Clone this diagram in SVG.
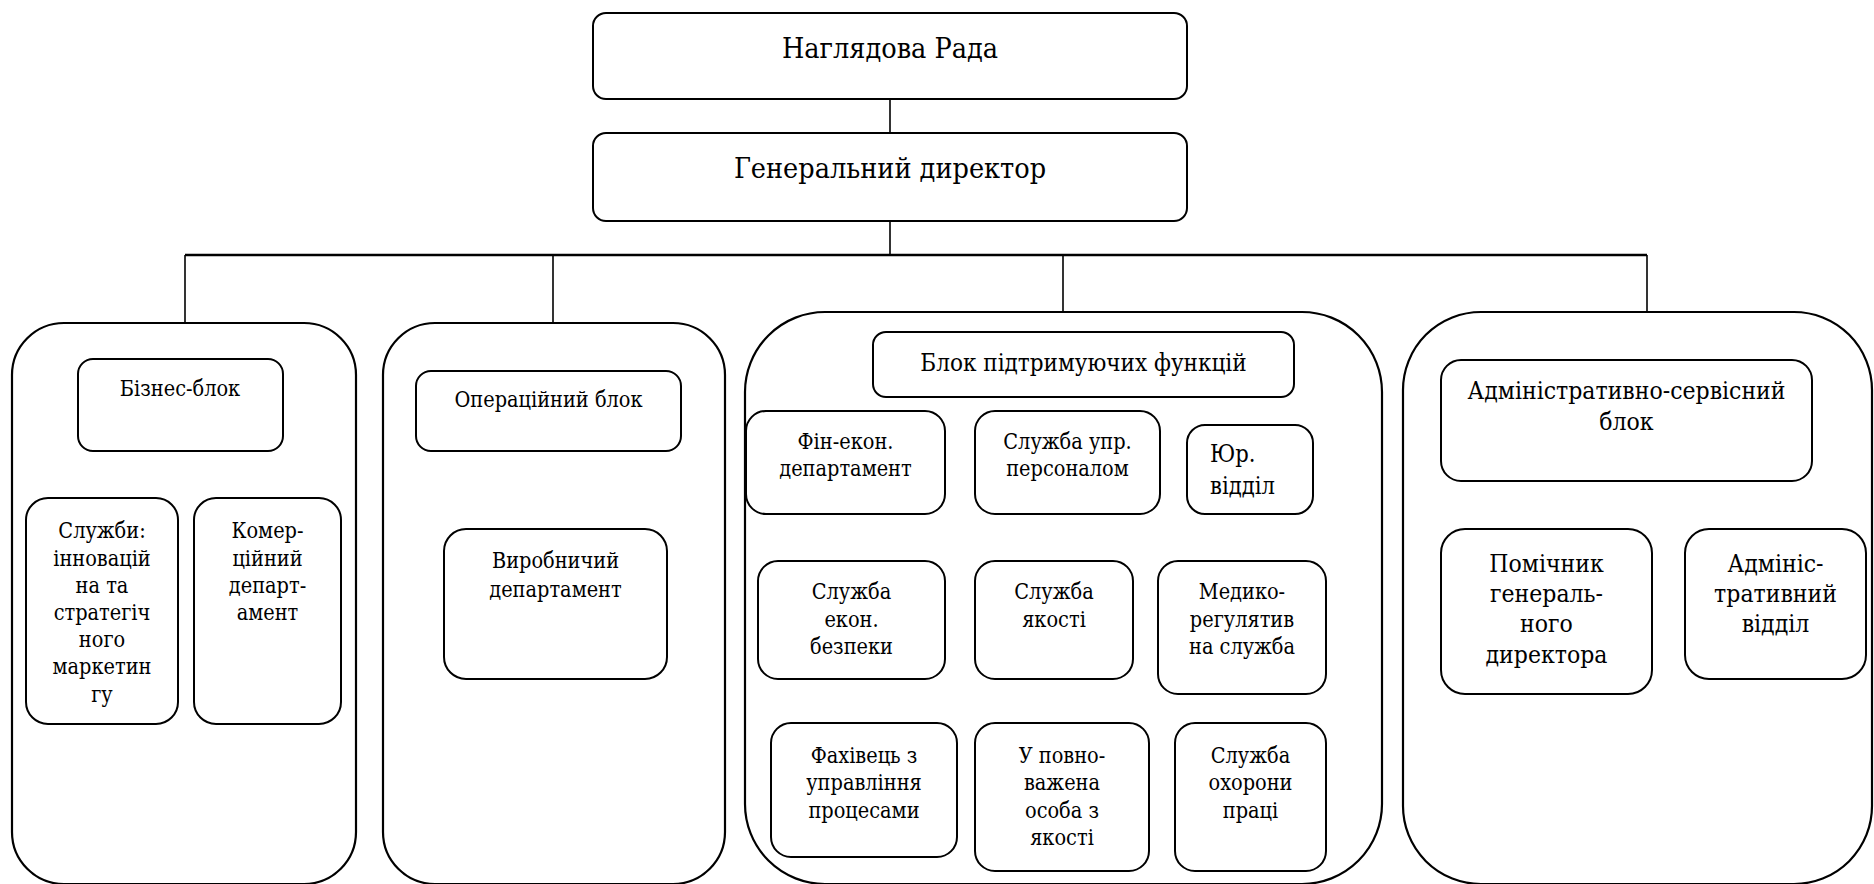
<svg xmlns="http://www.w3.org/2000/svg" width="1874" height="884" viewBox="0 0 1874 884">
<style>
rect{fill:#fff;stroke:#000;stroke-width:2}
.big{stroke-width:2.2}
text{fill:#000;text-anchor:middle;font-family:'DejaVu Serif Condensed','DejaVu Serif',serif;font-stretch:condensed}
.t1{font-size:28.5px}
.t2{font-size:21.5px}
.t4{font-size:24px}
.t3{font-size:24.5px}
.ls{text-anchor:start;font-size:23.5px}
.c line{stroke:#000;stroke-width:1.6}
</style>
<rect width="1874" height="884" style="fill:#fff;stroke:none"/>
<g class="c" id="connectors">
<line x1="890" y1="99" x2="890" y2="133"/>
<line x1="890" y1="221" x2="890" y2="255"/>
<line x1="185" y1="255" x2="1647" y2="255" style="stroke-width:2.5"/>
<line x1="185" y1="255" x2="185" y2="323"/>
<line x1="553" y1="255" x2="553" y2="323"/>
<line x1="1063" y1="255" x2="1063" y2="312"/>
<line x1="1647" y1="255" x2="1647" y2="312"/>
</g>
<g id="n-rada"><rect x="593" y="13" width="594" height="86" rx="13"/><text class="t1" x="890" y="58">Наглядова Рада</text></g>
<g id="n-gendir"><rect x="593" y="133" width="594" height="88" rx="13"/><text class="t1" x="890" y="178">Генеральний директор</text></g>

<g id="blk-business"><rect class="big" x="12" y="323" width="344" height="561" rx="52"/></g>
<g id="blk-oper"><rect class="big" x="383" y="323" width="342" height="561" rx="52"/></g>
<g id="blk-support"><rect class="big" x="745" y="312" width="637" height="572" rx="80"/></g>
<g id="blk-admin"><rect class="big" x="1403" y="312" width="469" height="572" rx="78"/></g>

<g id="n-biz"><rect x="78" y="359" width="205" height="92" rx="15"/><text class="t2" x="180" y="396">Бізнес-блок</text></g>
<g id="n-sluzhby"><rect x="26" y="498" width="152" height="226" rx="22"/>
<text class="t2" x="102" y="538">Служби:</text><text class="t2" x="102" y="566">інновацій</text><text class="t2" x="102" y="593">на та</text><text class="t2" x="102" y="620">стратегіч</text><text class="t2" x="102" y="647">ного</text><text class="t2" x="102" y="674">маркетин</text><text class="t2" x="102" y="702">гу</text></g>
<g id="n-komer"><rect x="194" y="498" width="147" height="226" rx="22"/>
<text class="t2" x="267.5" y="538">Комер-</text><text class="t2" x="267.5" y="566">ційний</text><text class="t2" x="267.5" y="593">департ-</text><text class="t2" x="267.5" y="620">амент</text></g>

<g id="n-operblok"><rect x="416" y="371" width="265" height="80" rx="15"/><text class="t2" x="548.5" y="407">Операційний блок</text></g>
<g id="n-vyrob"><rect x="444" y="529" width="223" height="150" rx="22"/><text class="t2" x="555.5" y="568">Виробничий</text><text class="t2" x="555.5" y="597">департамент</text></g>

<g id="n-supblok"><rect x="873" y="332" width="421" height="65" rx="13"/><text class="t4" x="1083.5" y="371">Блок підтримуючих функцій</text></g>
<g id="n-fin"><rect x="746" y="411" width="199" height="103" rx="20"/><text class="t2" x="845.5" y="449">Фін-екон.</text><text class="t2" x="845.5" y="476">департамент</text></g>
<g id="n-pers"><rect x="975" y="411" width="185" height="103" rx="20"/><text class="t2" x="1067.5" y="449">Служба упр.</text><text class="t2" x="1067.5" y="476">персоналом</text></g>
<g id="n-yur"><rect x="1187" y="425" width="126" height="89" rx="18"/><text class="ls" x="1210" y="462">Юр.</text><text class="ls" x="1210" y="494">відділ</text></g>
<g id="n-bezp"><rect x="758" y="561" width="187" height="118" rx="20"/><text class="t2" x="851.5" y="599">Служба</text><text class="t2" x="851.5" y="627">екон.</text><text class="t2" x="851.5" y="654">безпеки</text></g>
<g id="n-yakist"><rect x="975" y="561" width="158" height="118" rx="20"/><text class="t2" x="1054" y="599">Служба</text><text class="t2" x="1054" y="627">якості</text></g>
<g id="n-med"><rect x="1158" y="561" width="168" height="133" rx="20"/><text class="t2" x="1242" y="599">Медико-</text><text class="t2" x="1242" y="627">регулятив</text><text class="t2" x="1242" y="654">на служба</text></g>
<g id="n-fakh"><rect x="771" y="723" width="186" height="134" rx="20"/><text class="t2" x="864" y="763">Фахівець з</text><text class="t2" x="864" y="790">управління</text><text class="t2" x="864" y="818">процесами</text></g>
<g id="n-upov"><rect x="975" y="723" width="174" height="148" rx="20"/><text class="t2" x="1062" y="763">У повно-</text><text class="t2" x="1062" y="790">важена</text><text class="t2" x="1062" y="818">особа з</text><text class="t2" x="1062" y="845">якості</text></g>
<g id="n-okh"><rect x="1175" y="723" width="151" height="148" rx="20"/><text class="t2" x="1250.5" y="763">Служба</text><text class="t2" x="1250.5" y="790">охорони</text><text class="t2" x="1250.5" y="818">праці</text></g>

<g id="n-adminblok"><rect x="1441" y="360" width="371" height="121" rx="20"/><text class="t3" x="1626.5" y="399">Адміністративно-сервісний</text><text class="t3" x="1626.5" y="430">блок</text></g>
<g id="n-pomich"><rect x="1441" y="529" width="211" height="165" rx="24"/><text class="t3" x="1546.5" y="572">Помічник</text><text class="t3" x="1546.5" y="602">генераль-</text><text class="t3" x="1546.5" y="632">ного</text><text class="t3" x="1546.5" y="663">директора</text></g>
<g id="n-adminv"><rect x="1685" y="529" width="181" height="150" rx="24"/><text class="t3" x="1775.5" y="572">Адмініс-</text><text class="t3" x="1775.5" y="602">тративний</text><text class="t3" x="1775.5" y="632">відділ</text></g>
</svg>
